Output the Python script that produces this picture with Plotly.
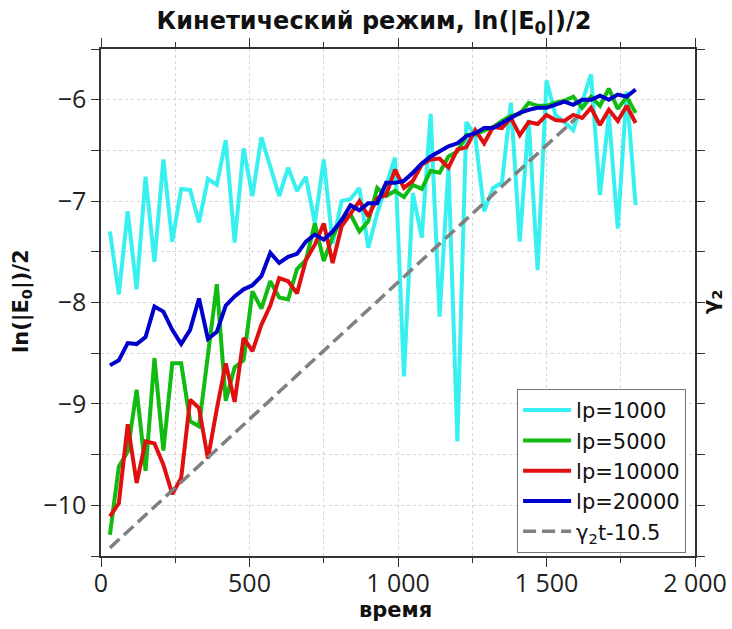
import plotly.graph_objects as go

# time grid (step 30)
t = [30 * k for k in range(1, 61)]

lp1000 = [-7.30, -7.92, -7.10, -7.87, -6.76, -7.60, -6.59, -7.40, -6.88, -6.89,
          -7.21, -6.78, -6.84, -6.40, -7.41, -6.48, -6.95, -6.37, -6.66, -6.95,
          -6.67, -6.90, -6.76, -7.22, -6.59, -7.42, -7.00, -6.98, -6.87, -7.46,
          -7.12, -6.86, -6.57, -8.73, -6.92, -7.36, -6.14, -8.14, -6.66, -9.37,
          -6.22, -6.36, -7.10, -6.87, -6.82, -6.03, -7.40, -6.20, -7.68, -5.81,
          -6.15, -6.22, -6.30, -6.02, -5.75, -6.94, -6.15, -7.27, -5.92, -7.04]

lp5000 = [-10.29, -9.62, -9.47, -8.86, -9.66, -8.55, -9.46, -8.60, -8.60, -9.17,
          -9.22, -8.50, -7.82, -8.97, -8.64, -8.57, -7.89, -8.06, -7.79, -7.95,
          -7.97, -7.67, -7.58, -7.22, -7.59, -7.35, -7.18, -7.13, -7.30, -7.20,
          -6.87, -6.95, -6.90, -6.96, -6.84, -6.88, -6.70, -6.72, -6.56, -6.51,
          -6.35, -6.34, -6.30, -6.27, -6.21, -6.16, -6.14, -6.03, -6.06, -6.06,
          -6.03, -6.01, -5.97, -6.08, -5.97, -6.06, -5.89, -6.09, -5.97, -6.13]

lp10000 = [-10.11, -9.98, -9.20, -9.78, -9.37, -9.39, -9.60, -9.89, -9.73, -8.96,
           -9.04, -9.54, -9.05, -8.60, -8.98, -8.35, -8.48, -8.22, -8.03, -7.76,
           -7.79, -7.91, -7.58, -7.43, -7.22, -7.61, -7.25, -7.12, -7.00, -7.15,
           -6.97, -6.94, -6.69, -6.87, -6.80, -6.64, -6.59, -6.58, -6.67, -6.49,
           -6.47, -6.30, -6.43, -6.27, -6.28, -6.18, -6.35, -6.22, -6.24, -6.15,
           -6.20, -6.21, -6.15, -6.18, -6.08, -6.25, -6.10, -6.21, -6.06, -6.23]

lp20000 = [-8.62, -8.57, -8.40, -8.41, -8.34, -8.04, -8.09, -8.27, -8.41, -8.27,
           -7.96, -8.36, -8.29, -8.03, -7.94, -7.87, -7.83, -7.74, -7.51, -7.61,
           -7.55, -7.52, -7.40, -7.33, -7.38, -7.30, -7.19, -7.04, -7.09, -7.02,
           -7.02, -6.82, -6.82, -6.80, -6.72, -6.63, -6.56, -6.51, -6.46, -6.43,
           -6.36, -6.33, -6.28, -6.28, -6.23, -6.18, -6.13, -6.10, -6.08, -6.08,
           -6.05, -6.02, -6.05, -6.00, -6.00, -5.96, -6.00, -5.95, -5.97, -5.90]

fit_t = [30, 1600]
fit_v = [-10.42, -6.18]

x_ticks = [0, 500, 1000, 1500, 2000]
y_ticks = [-10, -9, -8, -7, -6]

series = [
    ("lp=1000", lp1000, "#38F0F0"),
    ("lp=5000", lp5000, "#11BB11"),
    ("lp=10000", lp10000, "#E01010"),
    ("lp=20000", lp20000, "#0000CC"),
]

fig = go.Figure()
for name, vals, col in series:
    fig.add_trace(go.Scatter(x=t, y=vals, mode="lines", name=name,
                             line=dict(color=col, width=4)))
fig.add_trace(go.Scatter(x=fit_t, y=fit_v, mode="lines", name="γ<sub>2</sub>t-10.5",
                         line=dict(color="#808080", width=3.5, dash="13px,6px")))
fig.add_trace(go.Scatter(x=[None], y=[None], yaxis="y2", showlegend=False,
                         hoverinfo="skip"))

tickfont = dict(family="Open Sans, sans-serif", size=25, color="#222")
boldfont = dict(family="DejaVu Sans, sans-serif", size=21, color="#111")

fig.update_layout(
    width=732, height=629,
    margin=dict(l=101, r=37, t=49, b=73, autoexpand=False),
    paper_bgcolor="white", plot_bgcolor="white",
    separators=". ",
    title=dict(text="<b>Кинетический режим, ln(|E<sub>0</sub>|)/2</b>",
               x=0.511, xref="container", xanchor="center",
               y=0.968, yref="container", yanchor="middle",
               font=dict(family="DejaVu Sans, sans-serif", size=24, color="#111")),
    xaxis=dict(range=[0, 2000], tickvals=x_ticks, tickformat=",d",
               automargin=False, ticklabelstandoff=-5,
               showline=True, linecolor="#333", linewidth=1.5,
               ticks="outside", ticklen=9, tickcolor="#333", mirror="ticks",
               showgrid=True, gridcolor="#d4d4d4", griddash="dot", gridwidth=1,
               minor=dict(dtick=250, ticklen=5, tickcolor="#333", showgrid=True,
                          gridcolor="#d4d4d4", griddash="dot"),
               tickfont=tickfont, zeroline=False),
    yaxis=dict(range=[-10.5, -5.5], tickvals=y_ticks,
               automargin=False,
               showline=True, linecolor="#333", linewidth=1.5,
               ticks="outside", ticklen=8, tickcolor="#333",
               showgrid=True, gridcolor="#d4d4d4", griddash="dot", gridwidth=1,
               minor=dict(dtick=0.5, ticklen=8, tickcolor="#333", showgrid=True,
                          gridcolor="#d4d4d4", griddash="dot"),
               tickfont=tickfont, zeroline=False),
    yaxis2=dict(range=[-10.5, -5.5], overlaying="y", side="right",
                automargin=False,
                showline=True, linecolor="#333", linewidth=1.5,
                ticks="outside", ticklen=8, tickcolor="#333",
                tickvals=y_ticks, showticklabels=False, showgrid=False,
                minor=dict(dtick=0.5, ticklen=8, tickcolor="#333"),
                zeroline=False),
    legend=dict(x=0.985, xanchor="right", y=0.006, yanchor="bottom",
                bgcolor="white", bordercolor="#777", borderwidth=1,
                font=dict(family="DejaVu Sans, sans-serif", size=21, color="#111"),
                itemwidth=48, tracegroupgap=0),
    showlegend=True,
    annotations=[
        dict(text="<b>время</b>", xref="paper", yref="paper", x=0.4966, y=-0.1065,
             xanchor="center", yanchor="middle", showarrow=False, font=boldfont),
        dict(text="<b>ln(|E<sub>0</sub>|)/2</b>", xref="paper", yref="paper",
             x=-0.133, y=0.503, xanchor="center", yanchor="middle",
             textangle=-90, showarrow=False, font=boldfont),
        dict(text="<b>γ<sub>2</sub></b>", xref="paper", yref="paper",
             x=1.0286, y=0.503, xanchor="center", yanchor="middle",
             textangle=-90, showarrow=False, font=boldfont),
    ],
)

fig.write_html("out.html", config={"displayModeBar": False},
               post_script="document.body.style.margin='0';document.body.style.overflow='hidden';")
